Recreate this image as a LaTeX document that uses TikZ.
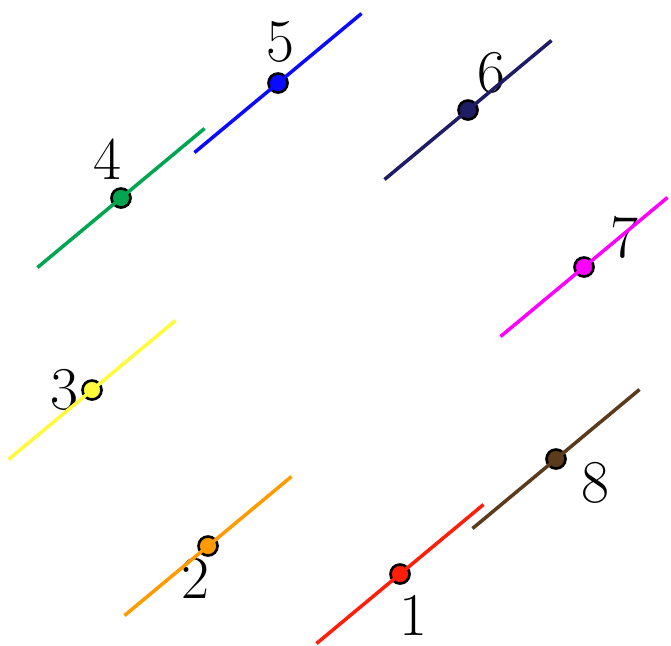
\documentclass[tikz,border=0pt]{standalone}
\usepackage{xcolor}
\usetikzlibrary{calc}
\definecolor{ptred}{RGB}{255,30,10}
\definecolor{ptorange}{RGB}{255,155,0}
\definecolor{ptyellow}{RGB}{255,250,60}
\definecolor{ptgreen}{RGB}{0,165,80}
\definecolor{ptblue}{RGB}{10,10,255}
\definecolor{ptnavy}{RGB}{30,28,100}
\definecolor{ptmagenta}{RGB}{255,0,255}
\definecolor{ptbrown}{RGB}{90,60,28}
\tikzset{
  dot/.style={circle,draw=black,line width=0.75pt,inner sep=0pt,minimum size=0.19cm},
  numlbl/.style={font=\fontsize{19}{23}\selectfont,inner sep=0pt},
  tang/.style={line width=1pt}
}

\begin{document}
\begin{tikzpicture}[x=0.01cm,y=-0.01cm]
  \useasboundingbox (0,0) rectangle (671,645);
  % points, label positions
  \foreach \i/\px/\py/\lx/\ly/\col in {
      1/400/574/413/616/ptred,
      2/208/546/195/579/ptorange,
      3/92/390/64/390/ptyellow,
      4/121/198/107/160/ptgreen,
      5/278/83/280/42/ptblue,
      6/468/110/491/73/ptnavy,
      7/584/267/624/238/ptmagenta,
      8/556/459/595/483/ptbrown}{
    \node[dot,fill=\col] (p\i) at (\px,\py) {};
    \node[numlbl] (l\i) at (\lx,\ly) {$\i$};
    \coordinate (a\i) at ($(p\i)+(-83.5,69.5)$);
    \coordinate (b\i) at ($(p\i)+(83.5,-69.5)$);
    \draw[tang,\col] (a\i) -- (p\i.center) -- (b\i);
  }
\end{tikzpicture}
\end{document}
